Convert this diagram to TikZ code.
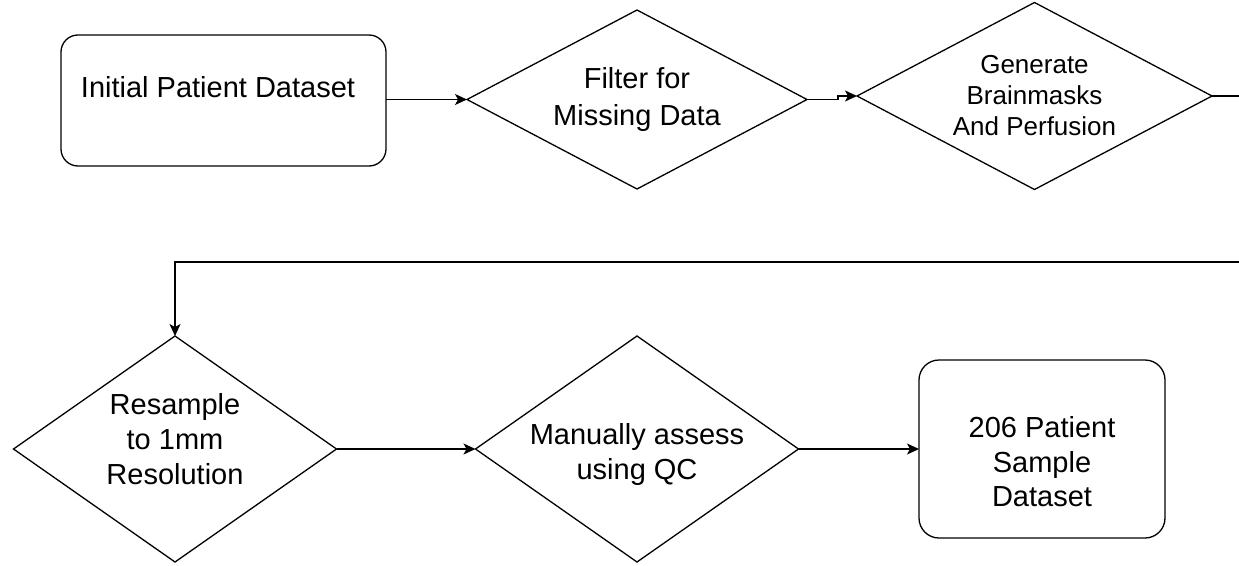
\documentclass[tikz,border=0pt]{standalone}
\usepackage{fontspec}
\setmainfont{Liberation Sans}
\usetikzlibrary{shapes.geometric,arrows.meta,calc}
\begin{document}
\begin{tikzpicture}[x=1pt,y=-1pt,
  line width=1.3pt,
  every node/.style={inner sep=0pt, outer sep=0pt},
  flowbox/.style={draw, rectangle, rounded corners=17pt, line width=1.3pt},
  decision/.style={draw, diamond, line width=1.3pt, align=center},
  txt/.style={font=\fontsize{29}{35}\selectfont, align=center},
  conn/.style={-{Stealth[length=12pt,width=11pt,inset=3pt]}, line width=1.3pt}
]
\useasboundingbox (0,0) rectangle (1239,565);

% top row
\node[flowbox, minimum width=325pt, minimum height=131pt] (box1) at (223.5,100.5) {};
\node[txt] (box1txt) at ($(box1.center)+(-5.5,-13)$) {Initial Patient Dataset};

\node[decision, minimum width=340pt, minimum height=179pt, aspect=1.9,
      font=\fontsize{29}{36}\selectfont] (filt) at (637,99.5) {};
\node[txt, font=\fontsize{29}{36}\selectfont] (filttxt) at ($(filt.center)+(0,0)$) {Filter for\\Missing Data};

\node[decision, minimum width=355pt, minimum height=187pt, aspect=1.9] (gen) at (1034.5,96) {};
\node[txt, font=\fontsize{26}{31}\selectfont] (gentxt) at (gen.center) {Generate\\Brainmasks\\And Perfusion};

% bottom row
\node[decision, minimum width=323pt, minimum height=226pt, aspect=1.43] (res) at (175,449) {};
\node[txt] (restxt) at ($(res.center)+(0,-10)$) {Resample\\to 1mm\\Resolution};

\node[decision, minimum width=323pt, minimum height=226pt, aspect=1.43] (man) at (637,449) {};
\node[txt] (mantxt) at ($(man.center)+(0,5.5)$) {Manually assess\\using QC};

\node[flowbox, rounded corners=20pt, minimum width=246pt, minimum height=178pt] (final) at (1042,449) {};
\node[txt, font=\fontsize{29}{34.5}\selectfont] (finaltxt) at ($(final.center)+(0,13)$) {206 Patient\\Sample\\Dataset};

\coordinate (offR) at (1265,96);
\coordinate (jog) at (838,99.5);

% connectors
\draw[conn] (box1.east |- filt.west) -- (filt.west);
\draw[conn] (filt.east) -- (jog) |- (gen.west);
\draw[conn] (gen.east) -- (offR) |- (res.north |- 0,262) -- (res.north);
\draw[conn] (res.east) -- (man.west);
\draw[conn] (man.east) -- (final.west);
\end{tikzpicture}
\end{document}
